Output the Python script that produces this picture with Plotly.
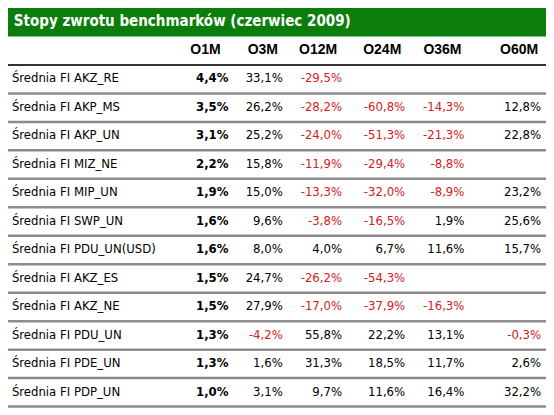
import plotly.graph_objects as go

title = "Stopy zwrotu benchmarków (czerwiec 2009)"
columns = ["O1M", "O3M", "O12M", "O24M", "O36M", "O60M"]
funds = ["Średnia FI AKZ_RE", "Średnia FI AKP_MS", "Średnia FI AKP_UN", "Średnia FI MIZ_NE",
         "Średnia FI MIP_UN", "Średnia FI SWP_UN", "Średnia FI PDU_UN(USD)", "Średnia FI AKZ_ES",
         "Średnia FI AKZ_NE", "Średnia FI PDU_UN", "Średnia FI PDE_UN", "Średnia FI PDP_UN"]
o1m = [4.4, 3.5, 3.1, 2.2, 1.9, 1.6, 1.6, 1.5, 1.5, 1.3, 1.3, 1.0]
o3m = [33.1, 26.2, 25.2, 15.8, 15.0, 9.6, 8.0, 24.7, 27.9, -4.2, 1.6, 3.1]
o12m = [-29.5, -28.2, -24.0, -11.9, -13.3, -3.8, 4.0, -26.2, -17.0, 55.8, 31.3, 9.7]
o24m = [None, -60.8, -51.3, -29.4, -32.0, -16.5, 6.7, -54.3, -37.9, 22.2, 18.5, 11.6]
o36m = [None, -14.3, -21.3, -8.8, -8.9, 1.9, 11.6, None, -16.3, 13.1, 11.7, 16.4]
o60m = [None, 12.8, 22.8, None, 23.2, 25.6, 15.7, None, None, -0.3, 2.6, 32.2]
series = [o1m, o3m, o12m, o24m, o36m, o60m]

col_right = [227, 283, 344, 409, 470, 549]
head_right = [219, 278, 339, 405, 467, 546]
rows = list(range(2, 2 + len(funds)))

W, H = 538, 400  # visible viewport is a little smaller than the window
fig = go.Figure()

fig.add_shape(type="rect", x0=0, x1=554, y0=-0.5, y1=0.5, fillcolor="#0b7d0b", line_width=0, layer="below")
fig.add_trace(go.Scatter(x=[6], y=[0], text=[title], mode="text", textposition="middle right",
                         textfont=dict(family="DejaVu Sans Condensed, Tahoma", size=15, color="white",
                                       weight="bold")))
fig.add_trace(go.Scatter(x=head_right, y=[1] * len(columns), text=columns, mode="text",
                         textposition="middle left",
                         textfont=dict(family="Liberation Sans", size=14, color="black", weight="bold")))
fig.add_trace(go.Scatter(x=[4] * len(funds), y=rows, text=funds, mode="text", textposition="middle right",
                         textfont=dict(family="DejaVu Sans Condensed, Tahoma", size=13, color="black")))

def fmt(v):
    return "" if v is None else f"{v:.1f}%".replace(".", ",")

for i, vals in enumerate(series):
    fig.add_trace(go.Scatter(
        x=[col_right[i]] * len(vals), y=rows, text=[fmt(v) for v in vals], mode="text",
        textposition="middle left",
        textfont=dict(family="DejaVu Sans Condensed, Tahoma", size=13,
                      color=["#d42020" if (v is not None and v < 0) else "black" for v in vals],
                      weight="bold" if i == 0 else "normal")))

fig.add_shape(type="line", x0=0, x1=554, y0=1.5, y1=1.5, line=dict(color="#333333", width=2))
for r in rows:
    fig.add_shape(type="line", x0=0, x1=554, y0=r + 0.5, y1=r + 0.5, line=dict(color="#8c8c8c", width=2.5))

fig.update_layout(width=W, height=H, margin=dict(l=0, r=0, t=0, b=0), showlegend=False,
                  plot_bgcolor="white", paper_bgcolor="white",
                  xaxis=dict(range=[0, 554], visible=False, fixedrange=True),
                  yaxis=dict(range=[rows[-1] + 0.55, -0.5], visible=False, fixedrange=True))
fig.write_html("out.html")
